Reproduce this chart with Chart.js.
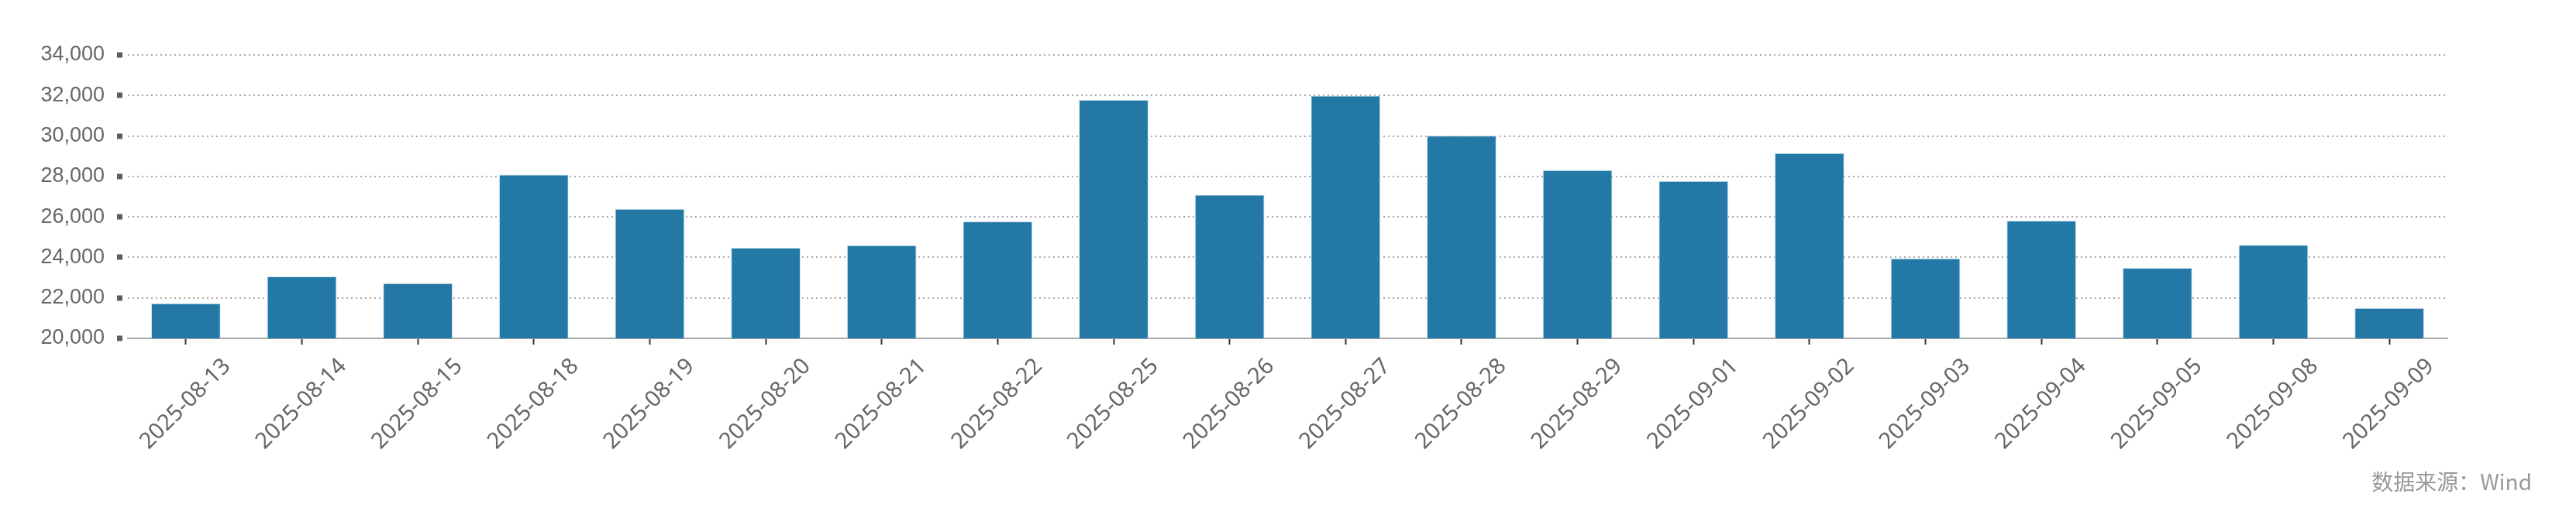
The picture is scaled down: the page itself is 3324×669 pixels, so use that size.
<!DOCTYPE html>
<html>
<head>
<meta charset="utf-8">
<script src="https://cdn.jsdelivr.net/npm/chart.js@4/dist/chart.umd.min.js"></script>
<style>
  body { margin: 0; background: #fff; }
  #wrap { position: relative; width: 3324px; height: 669px; }
  #source {
    position: absolute; right: 57px; top: 601px;
    font-family: "Noto Sans CJK SC", sans-serif; font-size: 28px; color: #999;
  }
</style>
</head>
<body>
<div id="wrap">
  <canvas id="volumeChart"></canvas>
  <div id="source">数据来源：Wind</div>
</div>
<script>
// trading days on the x axis
const dates = ['2025-08-13', '2025-08-14', '2025-08-15', '2025-08-18', '2025-08-19',
  '2025-08-20', '2025-08-21', '2025-08-22', '2025-08-25', '2025-08-26',
  '2025-08-27', '2025-08-28', '2025-08-29', '2025-09-01', '2025-09-02',
  '2025-09-03', '2025-09-04', '2025-09-05', '2025-09-08', '2025-09-09'];

// bar heights
const values = [21730, 23060, 22730, 28090, 26400, 24480, 24600, 25780, 31780, 27100,
  31990, 30010, 28310, 27770, 29150, 23950, 25810, 23480, 24620, 21500];

// y axis range
const yMin = 20000;
const yMax = 34000;
const yStep = 2000;

var ctx = document.getElementById('volumeChart').getContext('2d');
var chart = new Chart(ctx, {
  type: 'bar',
  data: {
    labels: dates,
    datasets: [{
      data: values,
      backgroundColor: '#2378a5',
      borderColor: 'rgba(200,225,240,0.9)',
      borderWidth: 1,
      categoryPercentage: 1,
      barPercentage: 0.6
    }]
  },
  options: {
    responsive: true,
    maintainAspectRatio: false,
    animation: false,
    layout: {
      padding: { top: 71, right: 166, left: 0, bottom: 0 }
    },
    plugins: {
      legend: { display: false },
      tooltip: { enabled: false }
    },
    scales: {
      x: {
        // ticks sit under the bar centres, no vertical grid
        grid: {
          display: true,
          drawOnChartArea: false,
          offset: false,
          tickLength: 8,
          tickWidth: 2,
          tickColor: '#333'
        },
        border: { display: true, color: '#a3a6ab', width: 2 },
        ticks: {
          color: '#666',
          font: { family: 'Noto Sans', size: 29 },
          minRotation: 45,
          maxRotation: 45,
          autoSkip: false,
          padding: 11,
          labelOffset: 53
        },
        afterFit: function (scale) { scale.height = 232; }
      },
      y: {
        min: yMin,
        max: yMax,
        // dotted grid, small square tick marks
        grid: {
          color: '#aaa',
          lineWidth: 2,
          borderDash: [2, 4],
          tickLength: 14,
          tickWidth: 7,
          tickColor: '#5a5e66',
          tickBorderDash: [7, 7]
        },
        border: { display: false, dash: [2, 4] },
        ticks: {
          stepSize: yStep,
          color: '#666',
          padding: 16,
          font: { family: 'Liberation Sans', size: 27 },
          callback: function (v) { return v.toLocaleString('en-US'); }
        },
        afterFit: function (scale) { scale.width = 165; }
      }
    }
  }
});
</script>
</body>
</html>
